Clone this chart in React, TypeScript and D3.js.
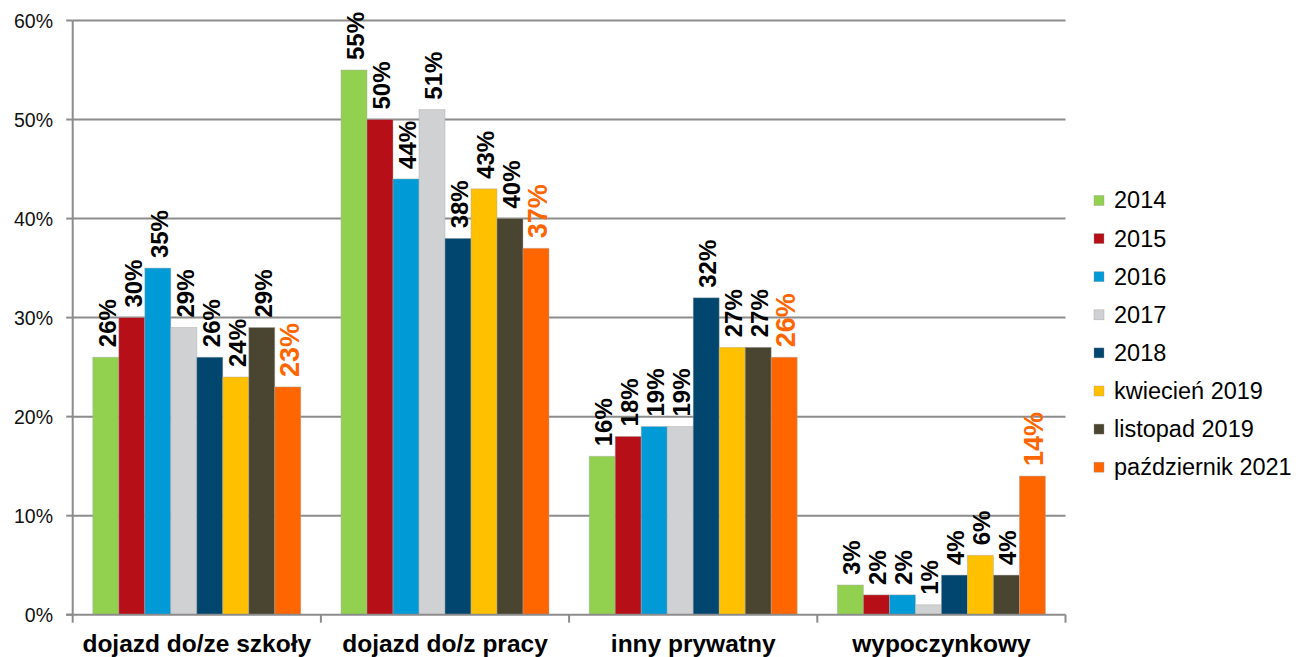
import React from 'react';
import * as d3 from 'd3';

const categories = ['dojazd do/ze szkoły', 'dojazd do/z pracy', 'inny prywatny', 'wypoczynkowy'];
const seriesNames = ['2014', '2015', '2016', '2017', '2018', 'kwiecień 2019', 'listopad 2019', 'październik 2021'];
const seriesColors = ['#92d050', '#b70f17', '#009bd6', '#d0d1d3', '#00466e', '#ffc000', '#4a4530', '#ff6600'];

const v2014 = [26, 55, 16, 3];
const v2015 = [30, 50, 18, 2];
const v2016 = [35, 44, 19, 2];
const v2017 = [29, 51, 19, 1];
const v2018 = [26, 38, 32, 4];
const vApr2019 = [24, 43, 27, 6];
const vNov2019 = [29, 40, 27, 4];
const vOct2021 = [23, 37, 26, 14];
const seriesValues = [v2014, v2015, v2016, v2017, v2018, vApr2019, vNov2019, vOct2021];

const yTicks = [0, 10, 20, 30, 40, 50, 60];

const W = 1303;
const H = 657;
const left = 72.7;
const right = 1065.5;
const top = 20.5;
const bottom = 614.7;
const font = '"Liberation Sans", Arial, sans-serif';
const gridColor = '#8c8c8c';

export default function App() {
  const x0 = d3.scaleBand<string>().domain(categories).range([left, right]).padding(0);
  const bw = x0.bandwidth();
  const outer = bw * 0.081;
  const x1 = d3.scaleBand<string>().domain(seriesNames).range([outer, bw - outer]).padding(0);
  const y = d3.scaleLinear().domain([0, 60]).range([bottom, top]);

  const boundaries = [...categories.map(c => x0(c) as number), right];
  const lastSeries = seriesNames.length - 1;

  return (
    <div style={{ position: 'fixed', left: 0, top: 0 }}>
      <svg width={W} height={H} style={{ display: 'block', background: '#fff' }} fontFamily={font}>
        {/* gridlines + y axis ticks */}
        {yTicks.map(t => (
          <g key={t}>
            {t > 0 && (
              <line x1={left} x2={right} y1={y(t)} y2={y(t)} stroke={gridColor} strokeWidth={2} />
            )}
            <line x1={left - 6.5} x2={left} y1={y(t)} y2={y(t)} stroke={gridColor} strokeWidth={2} />
            <text x={53} y={y(t)} dy="0.36em" textAnchor="end" fontSize={19.5} fill="#111">
              {`${t}%`}
            </text>
          </g>
        ))}

        {/* bars */}
        {seriesNames.map((s, si) => (
          <g key={s}>
            {categories.map((c, ci) => {
              const v = seriesValues[si][ci];
              const bx = (x0(c) as number) + (x1(s) as number);
              const by = y(v);
              return (
                <rect
                  key={c}
                  x={bx}
                  y={by}
                  width={x1.bandwidth()}
                  height={bottom - by}
                  fill={seriesColors[si]}
                  stroke="rgba(170,170,170,0.55)"
                  strokeWidth={0.8}
                />
              );
            })}
          </g>
        ))}

        {/* axes */}
        <line x1={left} x2={left} y1={top} y2={bottom} stroke={gridColor} strokeWidth={2} />
        <line x1={left - 6.5} x2={right} y1={bottom} y2={bottom} stroke={gridColor} strokeWidth={2} />
        {boundaries.map((bx, i) => (
          <line key={i} x1={bx} x2={bx} y1={bottom} y2={bottom + 8} stroke={gridColor} strokeWidth={2} />
        ))}

        {/* value labels */}
        {seriesNames.map((s, si) => (
          <g key={s}>
            {categories.map((c, ci) => {
              const v = seriesValues[si][ci];
              const cx = (x0(c) as number) + (x1(s) as number) + x1.bandwidth() / 2 + 1;
              const ly = y(v) - 10;
              const isLast = si === lastSeries;
              return (
                <text
                  key={c}
                  transform={`translate(${cx},${ly}) rotate(-90)`}
                  dy="0.37em"
                  textAnchor="start"
                  fontSize={isLast ? 27 : 24}
                  fontWeight="bold"
                  fill={isLast ? '#ff6600' : '#000'}
                >
                  {`${v}%`}
                </text>
              );
            })}
          </g>
        ))}

        {/* category labels */}
        {categories.map(c => (
          <text
            key={c}
            x={(x0(c) as number) + bw / 2}
            y={652}
            textAnchor="middle"
            fontSize={24.5}
            fontWeight="bold"
            fill="#000"
          >
            {c}
          </text>
        ))}

        {/* legend */}
        {seriesNames.map((s, i) => {
          const ly = 200.5 + i * 38.1;
          return (
            <g key={s}>
              <rect x={1094} y={ly - 5} width={10} height={10} fill={seriesColors[i]} stroke="rgba(150,150,150,0.6)" strokeWidth={0.6} />
              <text x={1114} y={ly} dy="0.34em" fontSize={23.5} fill="#000">
                {s}
              </text>
            </g>
          );
        })}
      </svg>
    </div>
  );
}
